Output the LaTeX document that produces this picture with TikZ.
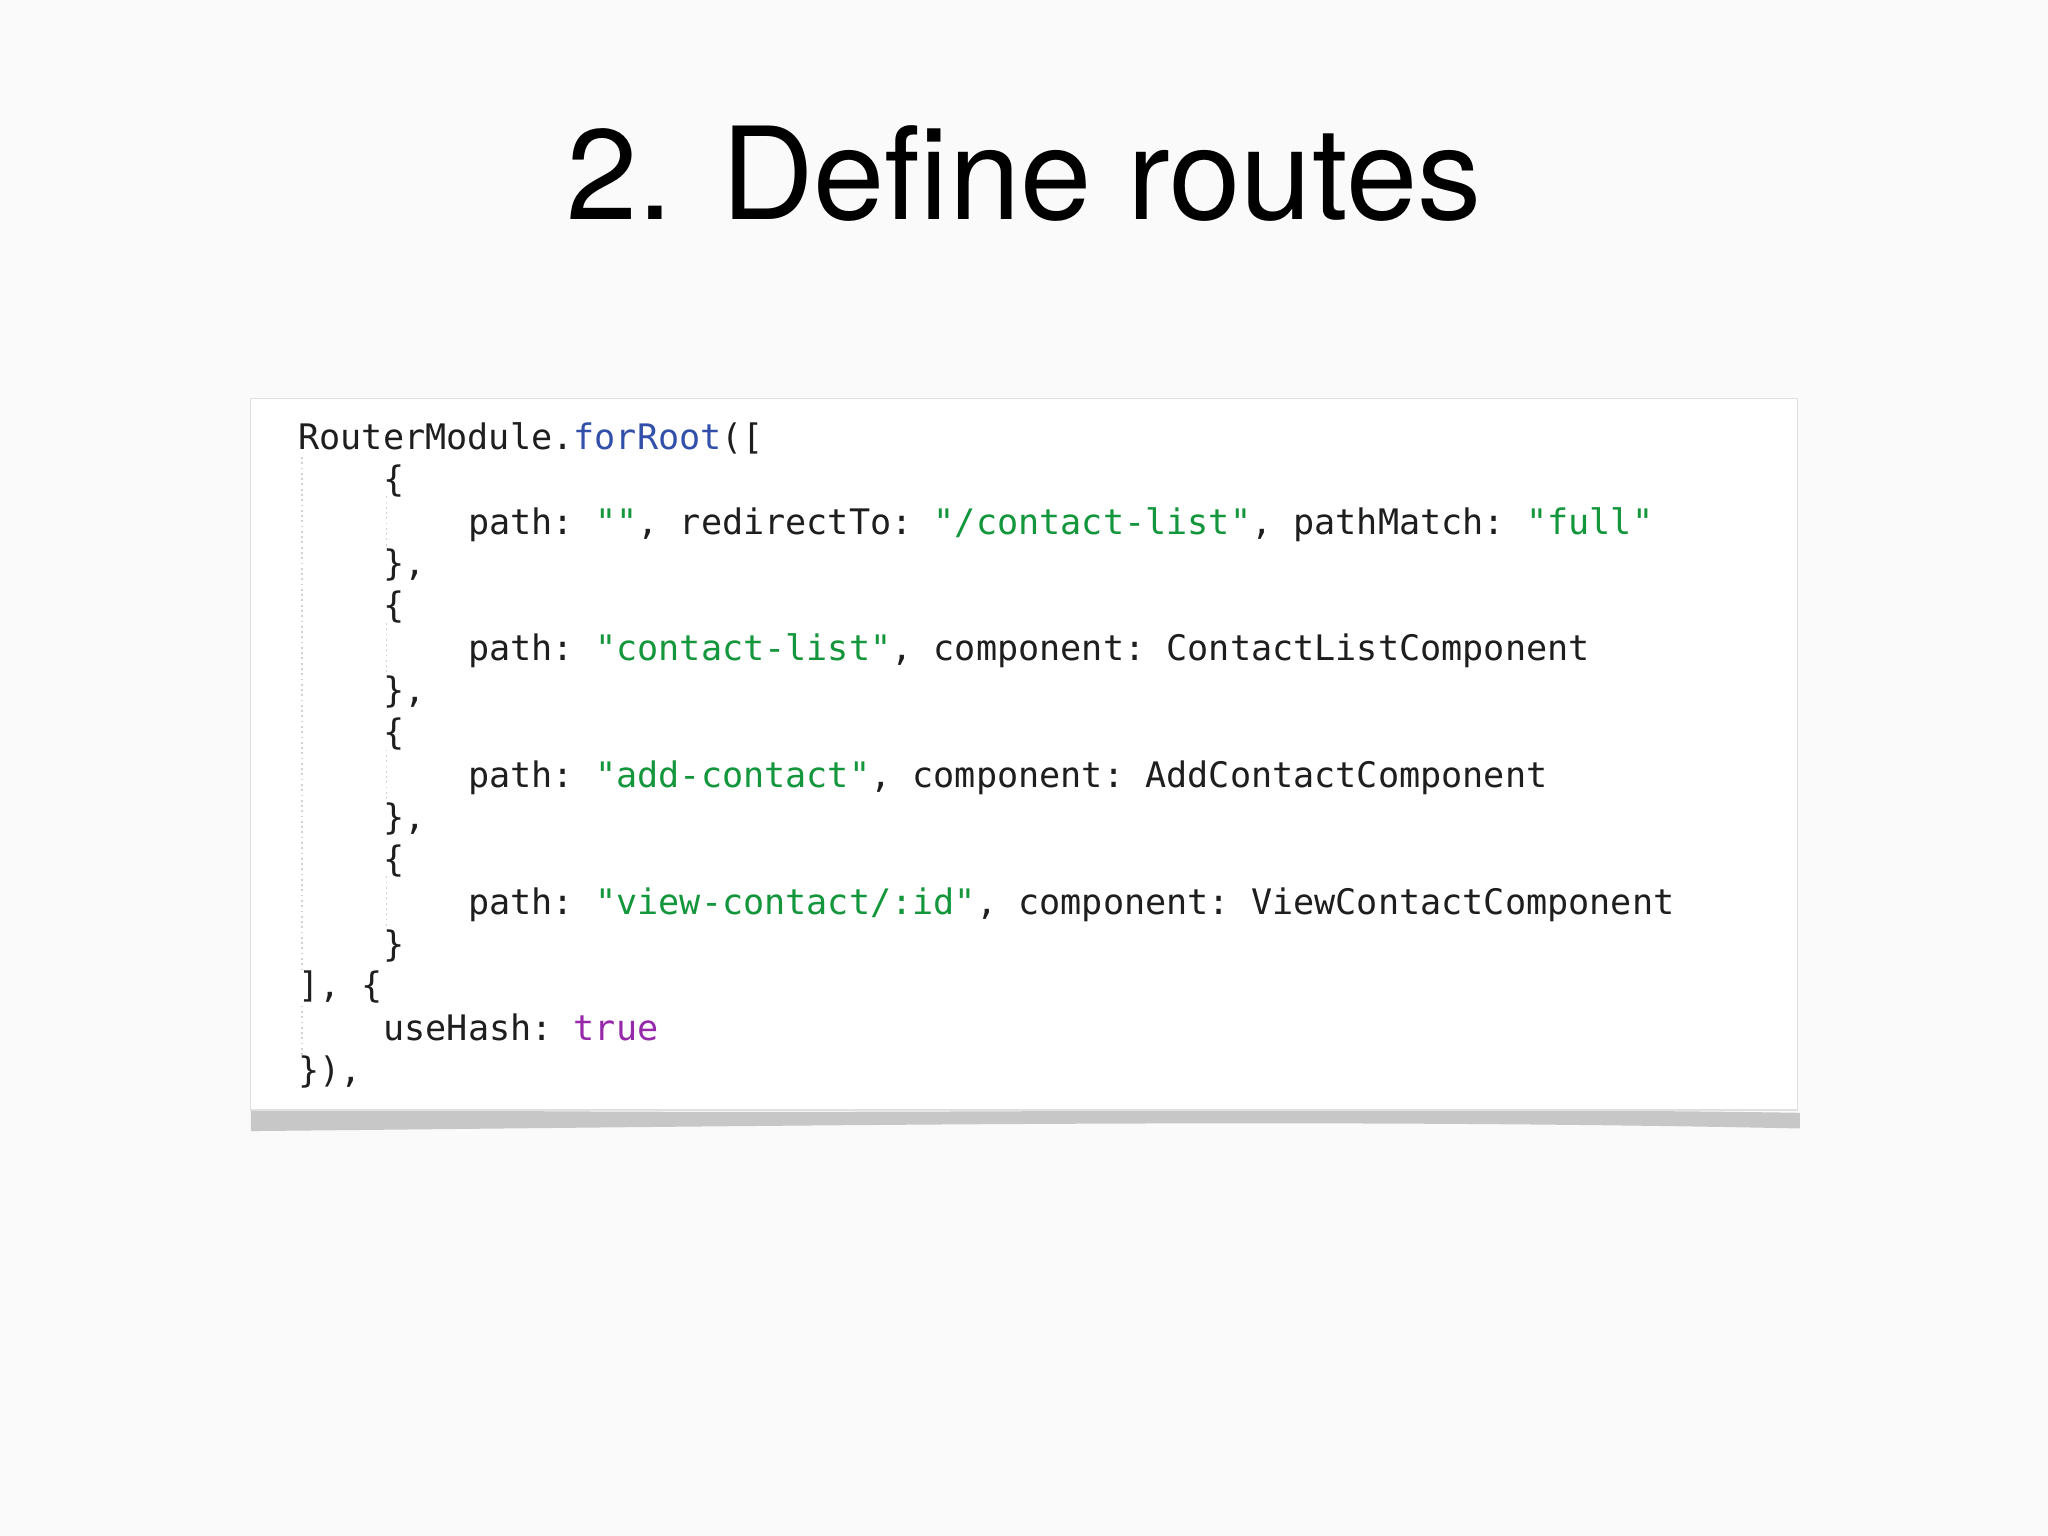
\documentclass[tikz,border=0pt]{standalone}
\usepackage{fontspec}
\setmainfont{TeX Gyre Heros}
\newfontfamily\codefont{DejaVu Sans Mono}
\definecolor{strg}{RGB}{20,150,60}
\definecolor{kwb}{RGB}{50,80,170}
\definecolor{kwp}{RGB}{150,40,170}
\definecolor{txt}{RGB}{30,30,30}
\begin{document}
\begin{tikzpicture}[x=0.013061cm,y=-0.013061cm,
  code/.style={anchor=base west,inner sep=0pt,font=\codefont\fontsize{10pt}{12pt}\selectfont\frenchspacing,text=txt},
  guide/.style={draw=black!18,densely dotted,line width=0.5pt}]
\useasboundingbox[fill=white!98!black] (0,0) rectangle (1568,1176);
% shadow
\fill[black!22] (192,848) .. controls (600,856) and (1000,846) .. (1378,852) -- (1378,864) .. controls (1000,856) and (600,862) .. (192,866) -- cycle;
\draw[draw=black!12,fill=white] (192,305) rectangle (1376,850);
\node[font=\fontsize{36.5pt}{44pt}\selectfont,inner sep=0pt,anchor=base] (title) at (784,168) {2. Define routes};
\draw[guide] (231,350) -- (231,745);
\draw[guide] (231,770) -- (231,810);
\foreach \a/\b in {380/420,477/517,574/614,671/711}{\draw[guide] (296,\a) -- (296,\b);}
\def\x{228}
\def\y{293}
\def\z{358}
\node[code] (l1) at (\x,344) {RouterModule.\textcolor{kwb}{forRoot}([};
\node[code] (l2) at (\y,376) {\{};
\node[code] (l3) at (\z,409) {path: \textcolor{strg}{""}, redirectTo: \textcolor{strg}{"/contact-list"}, pathMatch: \textcolor{strg}{"full"}};
\node[code] (l4) at (\y,441) {\},};
\node[code] (l5) at (\y,473) {\{};
\node[code] (l6) at (\z,506) {path: \textcolor{strg}{"contact-list"}, component: ContactListComponent};
\node[code] (l7) at (\y,538) {\},};
\node[code] (l8) at (\y,570) {\{};
\node[code] (l9) at (\z,603) {path: \textcolor{strg}{"add-contact"}, component: AddContactComponent};
\node[code] (l10) at (\y,635) {\},};
\node[code] (l11) at (\y,667) {\{};
\node[code] (l12) at (\z,700) {path: \textcolor{strg}{"view-contact/:id"}, component: ViewContactComponent};
\node[code] (l13) at (\y,732) {\}};
\node[code] (l14) at (\x,764) {], \{};
\node[code] (l15) at (\y,797) {useHash: \textcolor{kwp}{true}};
\node[code] (l16) at (\x,829) {\}),};
\end{tikzpicture}
\end{document}
